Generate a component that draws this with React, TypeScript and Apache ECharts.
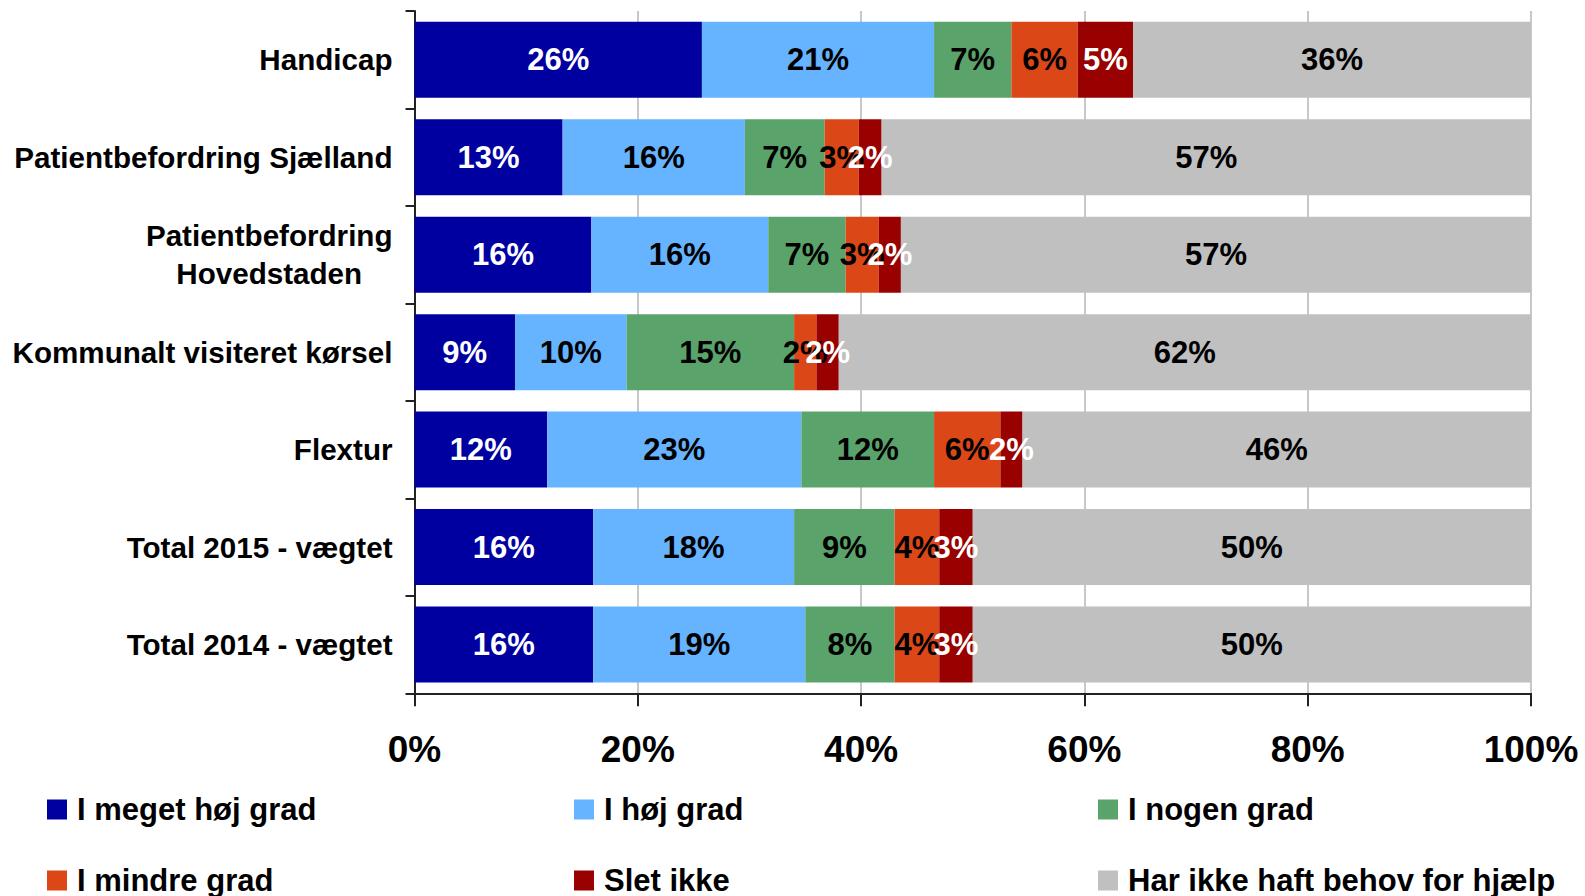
import React, { useEffect, useRef } from "react";
import * as echarts from "echarts";

const categories = [
  "Handicap",
  "Patientbefordring Sjælland",
  "Patientbefordring\nHovedstaden",
  "Kommunalt visiteret kørsel",
  "Flextur",
  "Total 2015 - vægtet",
  "Total 2014 - vægtet",
];

const seriesNames = [
  "I meget høj grad",
  "I høj grad",
  "I nogen grad",
  "I mindre grad",
  "Slet ikke",
  "Har ikke haft behov for hjælp",
];

const megetHoej = [26, 13, 16, 9, 12, 16, 16];
const hoej = [21, 16, 16, 10, 23, 18, 19];
const nogen = [7, 7, 7, 15, 12, 9, 8];
const mindre = [6, 3, 3, 2, 6, 4, 4];
const sletIkke = [5, 2, 2, 2, 2, 3, 3];
const ikkeBehov = [36, 57, 57, 62, 46, 50, 50];

const xTicks = [0, 20, 40, 60, 80, 100];

const colors = ["#0000A0", "#66B3FF", "#5AA36B", "#DC4718", "#990000", "#C0C0C0"];
const labelColors = ["#ffffff", "#000000", "#000000", "#000000", "#ffffff", "#000000"];

const FONT = "'Liberation Sans', Arial, Helvetica, sans-serif";

export default function App() {
  const ref = useRef<HTMLDivElement>(null);

  useEffect(() => {
    if (!ref.current) return;
    const chart = echarts.init(ref.current, undefined, { renderer: "svg" });
    const raw = [megetHoej, hoej, nogen, mindre, sletIkke, ikkeBehov];
    const totals = categories.map((_, i) => raw.reduce((s, arr) => s + arr[i], 0));

    const series = raw.map((arr, si) => ({
      name: seriesNames[si],
      type: "bar",
      stack: "total",
      barWidth: 76,
      itemStyle: { color: colors[si] },
      label: {
        show: true,
        position: "inside",
        formatter: (p: any) => p.data.raw + "%",
        color: labelColors[si],
        fontFamily: FONT,
        fontWeight: "bold",
        fontSize: 31,
      },
      data: arr.map((v, i) => ({ value: (v / totals[i]) * 100, raw: v })),
    }));

    const legendPos = [
      { left: 47, top: 794 },
      { left: 574, top: 794 },
      { left: 1098, top: 794 },
      { left: 47, top: 865 },
      { left: 574, top: 865 },
      { left: 1098, top: 865 },
    ];

    const legends = seriesNames.map((n, i) => ({
      data: [n],
      left: legendPos[i].left,
      top: legendPos[i].top,
      padding: 0,
      itemWidth: 20,
      itemHeight: 20,
      icon: "rect",
      selectedMode: false,
      textStyle: {
        fontFamily: FONT,
        fontWeight: "bold",
        fontSize: 31,
        color: "#000",
        padding: [0, 0, 0, 5],
      },
    }));

    chart.setOption({
      animation: false,
      backgroundColor: "#ffffff",
      legend: legends,
      grid: { left: 414.5, right: 54, top: 11, bottom: 202.7, containLabel: false },
      xAxis: {
        type: "value",
        min: xTicks[0],
        max: xTicks[xTicks.length - 1],
        interval: 20,
        axisLine: { show: true, lineStyle: { color: "#222", width: 2 } },
        axisTick: { show: true, length: 13, lineStyle: { color: "#222", width: 2 } },
        splitLine: { show: true, lineStyle: { color: "#C8C8C8", width: 2 } },
        axisLabel: {
          formatter: "{value}%",
          fontFamily: FONT,
          fontWeight: "bold",
          fontSize: 37,
          color: "#000",
          margin: 38,
        },
      },
      yAxis: {
        type: "category",
        inverse: true,
        data: categories,
        axisLine: { show: true, lineStyle: { color: "#222", width: 2 } },
        axisTick: { show: true, length: 9, lineStyle: { color: "#222", width: 2 } },
        axisLabel: {
          margin: 22,
          fontFamily: FONT,
          fontWeight: "bold",
          fontSize: 29.6,
          color: "#000",
          lineHeight: 38,
          formatter: (v: string) =>
            v.includes("\n")
              ? v
                  .split("\n")
                  .map((s) => `{c|${s}}`)
                  .join("\n")
              : v,
          rich: {
            c: {
              align: "center",
              fontFamily: FONT,
              fontWeight: "bold",
              fontSize: 29.6,
              color: "#000",
              lineHeight: 38,
            },
          },
        },
      },
      series,
    });

    return () => chart.dispose();
  }, []);

  return (
    <div
      ref={ref}
      style={{ position: "fixed", left: 0, top: 0, width: 1585, height: 896 }}
    />
  );
}
